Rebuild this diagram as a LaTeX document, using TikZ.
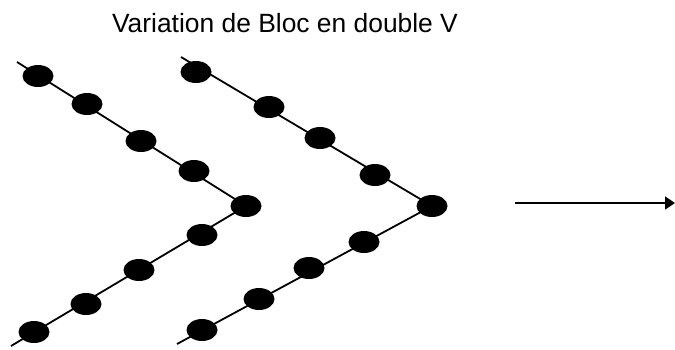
\documentclass[tikz,border=0pt]{standalone}
\usepackage{fontspec}
\setmainfont{Liberation Sans}
\usetikzlibrary{positioning,arrows.meta,shapes.geometric}

\tikzset{bead/.style={ellipse, fill=black, minimum width=31pt, minimum height=22pt, inner sep=0pt},
	wire/.style={line width=1.8pt}}

\begin{document}
\begin{tikzpicture}[x=1pt,y=-1pt]
	\useasboundingbox (0,0) rectangle (675,349);

	\node(title)[anchor=base] at (285,32) {\fontsize{26.4}{30}\selectfont Variation de Bloc en double V};

	% first V
	\begin{scope}
		\coordinate(ltop) at (17,62);
		\coordinate(lbot) at (11,346);
		\node(l1)[bead] at (38,76) {};
		\node(l2)[bead] at (87,104) {};
		\node(l3)[bead] at (141,141) {};
		\node(l4)[bead] at (194,171) {};
		\node(lv)[bead] at (246,206) {};
		\node(l6)[bead] at (202,235) {};
		\node(l7)[bead] at (139,270) {};
		\node(l8)[bead] at (86,304) {};
		\node(l9)[bead] at (34,332) {};

		\draw[wire] (ltop) -- (lv.center) -- (lbot);
	\end{scope}

	% second V
	\begin{scope}
		\coordinate(rtop) at (181,57);
		\coordinate(rbot) at (177,344);
		\node(r1)[bead] at (196,72) {};
		\node(r2)[bead] at (269,107) {};
		\node(r3)[bead] at (320,138) {};
		\node(r4)[bead] at (375,175) {};
		\node(rv)[bead] at (432,206) {};
		\node(r6)[bead] at (364,242) {};
		\node(r7)[bead] at (309,268) {};
		\node(r8)[bead] at (259,299) {};
		\node(r9)[bead] at (202,330) {};

		\draw[wire] (rtop) -- (rv.center) -- (rbot);
	\end{scope}

	\coordinate(from) at (515,203);
	\coordinate(to) at (675,203);
	\draw[wire, -{Triangle[length=10pt,width=13pt]}] (from) -- (to);
\end{tikzpicture}
\end{document}
